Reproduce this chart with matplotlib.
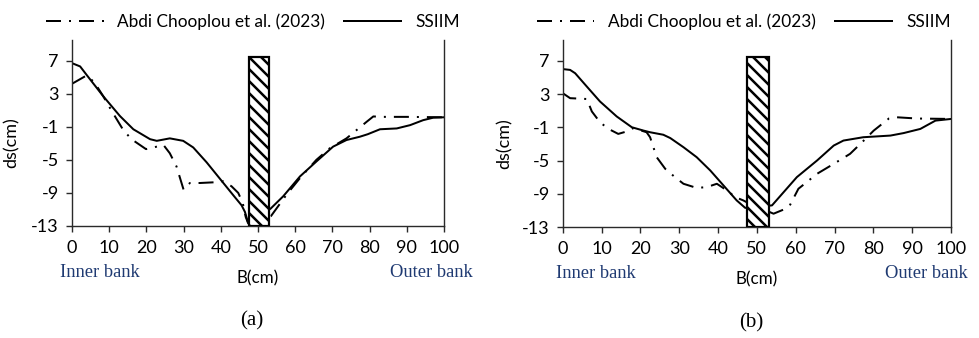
import matplotlib
matplotlib.use("Agg")
import matplotlib.pyplot as plt
from matplotlib.patches import Rectangle

plt.rcParams['font.family'] = ['Lato', 'DejaVu Sans']
plt.rcParams['axes.unicode_minus'] = False
plt.rcParams['hatch.linewidth'] = 2.5

# panel (a)
a_ssiim_x = [0, 2.2, 3.9, 8.4, 12.9, 16.5, 21, 22.8, 26.3, 29.9, 32.6, 36.2, 39.8, 43.4, 45.6, 46.5, 47.4,
             53.4, 56.8, 61.3, 65.7, 70.2, 73.8, 77.4, 79.5, 82.8, 87.3, 90.9, 94.4, 97.1, 100]
a_ssiim_y = [6.7, 6.3, 5.3, 2.7, 0.3, -1.3, -2.5, -2.7, -2.4, -2.7, -3.5, -5.3, -7.3, -9.3, -10.5, -11.3, -12.7,
             -10.9, -9.4, -7.0, -5.2, -3.4, -2.6, -2.2, -1.9, -1.3, -1.2, -0.8, -0.2, 0.1, 0.15]
a_abdi_x = [0, 3.9, 6, 8.4, 10.7, 13.8, 16, 19.9, 21.9, 24.6, 26.3, 28.1, 30, 31.7, 34.4, 38.9, 40.7, 42.9,
            44.7, 45.9, 46.7, 47.3,
            53.5, 57.7, 61.3, 65.7, 69.3, 73.8, 79.2, 81, 83.7, 90, 100]
a_abdi_y = [4.2, 5.2, 4.4, 2.7, 0.9, -1.4, -2.5, -3.7, -3.5, -3.2, -4.2, -5.8, -8.6, -7.8, -7.8, -7.7, -7.6, -8.2,
            -9.0, -10.2, -11.9, -12.6,
            -11.8, -9.2, -7.2, -5.0, -3.6, -2.4, -0.4, 0.25, 0.2, 0.2, 0.15]

# panel (b)
b_ssiim_x = [0, 1.9, 3.2, 6.2, 9.6, 13.9, 17.8, 20.8, 22.5, 25.9, 27.7, 31.1, 34.5, 38, 41.4, 44.8, 47,
             53.9, 60.3, 65.5, 69.8, 72.3, 77.4, 84.4, 87.8, 92.1, 96, 100]
b_ssiim_y = [6.0, 5.9, 5.5, 3.9, 2.1, 0.3, -1.0, -1.4, -1.6, -1.9, -2.3, -3.4, -4.6, -6.2, -8.0, -9.8, -10.7,
             -10.4, -7.0, -5.0, -3.2, -2.6, -2.2, -2.0, -1.7, -1.2, -0.2, 0.0]
b_abdi_x = [0, 1.9, 6.2, 7.5, 9.6, 11.8, 14.3, 16.5, 18.2, 21.6, 22.5, 24.2, 26.4, 28.9, 31.1, 34.5, 37.1,
            39.7, 42.3, 44.4, 46.5, 47.3,
            54.3, 56.9, 58.6, 60.7, 65.5, 69.8, 74, 77.1, 80.1, 84, 86.1, 91.3, 100]
b_abdi_y = [3.1, 2.5, 2.4, 0.9, -0.4, -1.2, -1.8, -1.5, -1.1, -1.6, -2.2, -4.6, -6.0, -7.0, -7.8, -8.3, -8.2,
            -7.8, -8.6, -9.4, -9.8, -10.0,
            -11.4, -10.9, -10.3, -8.4, -6.6, -5.4, -4.2, -2.8, -1.4, 0.05, 0.2, 0.05, 0.0]

pier_x0, pier_x1, pier_top = 47.5, 53.0, 7.5
yticks = [7, 3, -1, -5, -9, -13]
xticks = list(range(0, 101, 10))

navy = '#1f3a72'
dashdot = (0, (7.5, 4, 1, 4))

fig = plt.figure(figsize=(979 / 72, 338 / 72), dpi=72)
axes = [fig.add_axes([0.0735, 0.3314, 0.380, 0.5503]),
        fig.add_axes([0.5748, 0.3284, 0.3966, 0.5533])]

panels = [(a_abdi_x, a_abdi_y, a_ssiim_x, a_ssiim_y, '(a)'),
          (b_abdi_x, b_abdi_y, b_ssiim_x, b_ssiim_y, '(b)')]
ylab_x = [-0.14, -0.128]
inner_x = [-0.032, -0.018]
outer_x = [1.078, 1.043]
cap_x = [0.484, 0.486]
leg_x = [0.487, 0.467]

for i, ax in enumerate(axes):
    ax_x, ax_y, ss_x, ss_y, cap = panels[i]
    ax.add_patch(Rectangle((pier_x0, -13), pier_x1 - pier_x0, pier_top + 13,
                           facecolor='white', edgecolor='black', lw=2.2, hatch='\\\\', zorder=3))
    ax.plot(ax_x, ax_y, color='black', lw=2.0, linestyle=dashdot, label='Abdi Chooplou et al. (2023)', zorder=2)
    ax.plot(ss_x, ss_y, color='black', lw=2.0, label='SSIIM', zorder=2)

    ax.set_xlim(0, 100)
    ax.set_ylim(-13, 9.5)
    ax.set_xticks(xticks)
    ax.set_yticks(yticks)
    ax.tick_params(axis='both', labelsize=18, length=6, width=1.4, color='#2a2a2a')
    ax.tick_params(axis='x', pad=8)
    ax.tick_params(axis='y', pad=7)
    for s in ['left', 'bottom', 'right']:
        ax.spines[s].set_linewidth(1.4)
        ax.spines[s].set_color('#2a2a2a')
    ax.spines['top'].set_visible(False)

    ax.set_ylabel('ds(cm)', fontsize=18)
    ax.yaxis.set_label_coords(ylab_x[i], 0.446)

    ax.text(0.5, -0.28, 'B(cm)', transform=ax.transAxes, ha='center', va='center', fontsize=17)
    ax.text(inner_x[i], -0.25, 'Inner bank', transform=ax.transAxes, ha='left', va='center',
            fontsize=18.5, color=navy, family='Liberation Serif')
    ax.text(outer_x[i], -0.25, 'Outer bank', transform=ax.transAxes, ha='right', va='center',
            fontsize=18.5, color=navy, family='Liberation Serif')
    ax.text(cap_x[i], -0.512, cap, transform=ax.transAxes, ha='center', va='center',
            fontsize=21, family='Liberation Serif')

    ax.legend(loc='center', bbox_to_anchor=(leg_x[i], 1.1), ncol=2, frameon=False, fontsize=17.3,
              handlelength=3.3, handletextpad=0.8, columnspacing=1.1, borderaxespad=0)

fig.savefig('out.png', dpi=72)
